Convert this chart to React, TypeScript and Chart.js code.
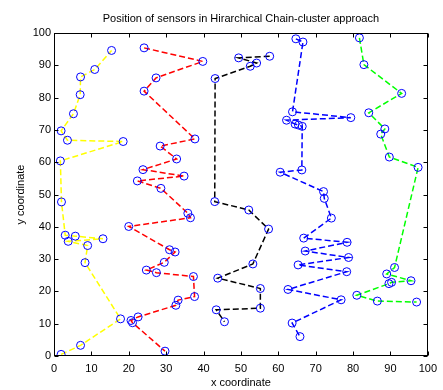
import React, { useEffect, useRef } from "react";
import { Chart, registerables } from "chart.js";

Chart.register(...registerables);

const TITLE = "Position of sensors in Hirarchical Chain-cluster approach";
const X_LABEL = "x coordinate";
const Y_LABEL = "y coordinate";
const tickValues = [0, 10, 20, 30, 40, 50, 60, 70, 80, 90, 100];

const yellowX = [1.9, 7.1, 17.8, 8.3, 9.0, 3.8, 13.1, 5.7, 3.0, 2.0, 1.7, 18.5, 3.6, 1.9, 5.2, 7.0, 7.1, 10.9, 15.4];
const yellowY = [0.5, 3.3, 11.5, 28.9, 34.2, 35.5, 36.3, 37.1, 37.4, 47.7, 60.4, 66.4, 66.8, 69.7, 75.0, 80.9, 86.4, 88.7, 94.6];

const redX = [24.1, 39.8, 27.3, 24.1, 37.7, 28.4, 32.8, 23.8, 34.8, 22.3, 28.6, 35.8, 36.5, 20.0, 30.9, 32.4, 29.5, 24.7, 27.4, 37.3, 37.6, 33.2, 32.6, 22.5, 20.6, 21.0, 29.7];
const redY = [95.4, 91.2, 86.1, 82.0, 67.2, 65.0, 61.0, 57.7, 55.7, 54.2, 51.9, 44.2, 42.8, 40.1, 32.9, 32.2, 29.0, 26.6, 25.8, 24.6, 18.4, 17.3, 15.7, 12.1, 11.0, 10.3, 1.5];

const blackX = [57.7, 49.4, 54.2, 52.5, 43.1, 43.0, 52.1, 57.4, 53.2, 43.8, 55.2, 55.2, 43.4, 45.6];
const blackY = [92.8, 92.3, 90.7, 89.7, 85.9, 47.8, 45.2, 39.3, 28.5, 24.1, 20.9, 14.8, 14.3, 10.6];

const blueX = [64.7, 66.6, 63.8, 79.4, 62.2, 64.5, 65.4, 66.4, 66.3, 60.5, 72.1, 72.3, 74.2, 66.8, 78.4, 67.2, 78.8, 65.3, 78.3, 62.6, 76.8, 63.7, 65.8];
const blueY = [98.2, 97.2, 75.6, 73.8, 73.0, 71.8, 71.5, 71.1, 57.6, 56.9, 50.9, 48.8, 42.7, 36.5, 35.2, 32.5, 30.5, 28.2, 26.1, 20.6, 17.4, 10.2, 6.0];

const greenX = [81.7, 82.9, 93.0, 84.2, 88.5, 87.4, 89.7, 97.4, 91.1, 89.0, 95.5, 90.3, 89.6, 81.0, 86.5, 97.0];
const greenY = [98.5, 90.2, 81.3, 75.3, 70.3, 68.7, 61.6, 58.4, 27.4, 25.4, 23.3, 22.8, 22.4, 18.8, 17.0, 16.7];

const FONT = "'Liberation Sans', Arial, Helvetica, sans-serif";

function series(xs: number[], ys: number[], color: string) {
  return {
    data: xs.map((x, i) => ({ x, y: ys[i] })),
    showLine: true,
    borderColor: color,
    borderWidth: 1.5,
    borderDash: [6, 3],
    tension: 0,
    pointRadius: 4,
    pointHoverRadius: 4,
    pointBorderWidth: 1,
    pointBorderColor: "#0000ff",
    pointBackgroundColor: "rgba(0,0,0,0)",
  };
}

const framePlugin = {
  id: "matlabFrame",
  afterDraw(chart: any) {
    const { ctx, chartArea, scales } = chart;
    const { left, right, top, bottom } = chartArea;
    const xs = scales.x;
    const ys = scales.y;
    ctx.save();
    ctx.strokeStyle = "#000";
    ctx.lineWidth = 1;
    ctx.setLineDash([]);
    const L = Math.round(left) + 0.5;
    const R = Math.round(right) - 0.5;
    const T = Math.round(top) + 0.5;
    const B = Math.round(bottom) - 0.5;
    ctx.strokeRect(L, T, R - L, B - T);
    const tl = 4;
    ctx.beginPath();
    tickValues.forEach((v) => {
      const px = Math.round(xs.getPixelForValue(v)) + 0.5;
      ctx.moveTo(px, B);
      ctx.lineTo(px, B - tl);
      ctx.moveTo(px, T);
      ctx.lineTo(px, T + tl);
      const py = Math.round(ys.getPixelForValue(v)) + 0.5;
      ctx.moveTo(L, py);
      ctx.lineTo(L + tl, py);
      ctx.moveTo(R, py);
      ctx.lineTo(R - tl, py);
    });
    ctx.stroke();

    ctx.fillStyle = "#000";
    ctx.font = `11px ${FONT}`;
    ctx.textAlign = "center";
    ctx.textBaseline = "middle";
    const cx = (left + right) / 2;
    ctx.fillText(TITLE, cx, 19);
    ctx.fillText(X_LABEL, cx, 383);
    ctx.translate(21, (top + bottom) / 2);
    ctx.rotate(-Math.PI / 2);
    ctx.fillText(Y_LABEL, 0, 0);
    ctx.restore();
  },
};

export default function App() {
  const ref = useRef<HTMLCanvasElement | null>(null);
  useEffect(() => {
    if (!ref.current) return;
    const chart = new Chart(ref.current, {
      type: "scatter",
      data: {
        datasets: [
          series(yellowX, yellowY, "#ffff00"),
          series(redX, redY, "#ff0000"),
          series(blackX, blackY, "#000000"),
          series(blueX, blueY, "#0000ff"),
          series(greenX, greenY, "#00ff00"),
        ] as any,
      },
      options: {
        responsive: false,
        animation: false,
        layout: { padding: { top: 33, right: 6, left: 0, bottom: 0 } },
        plugins: {
          legend: { display: false },
          title: { display: false },
          tooltip: { enabled: false },
        },
        scales: {
          x: {
            type: "linear",
            min: 0,
            max: 100,
            afterBuildTicks: (axis: any) => {
              axis.ticks = tickValues.map((v) => ({ value: v }));
            },
            afterFit: (axis: any) => {
              axis.height = 34;
            },
            grid: { display: false, drawTicks: false },
            border: { display: false },
            ticks: {
              padding: 6,
              color: "#000",
              font: { family: FONT, size: 11 },
              maxRotation: 0,
            },
          },
          y: {
            type: "linear",
            min: 0,
            max: 100,
            afterBuildTicks: (axis: any) => {
              axis.ticks = tickValues.map((v) => ({ value: v }));
            },
            afterFit: (axis: any) => {
              axis.width = 54;
            },
            grid: { display: false, drawTicks: false },
            border: { display: false },
            ticks: {
              padding: 3,
              color: "#000",
              font: { family: FONT, size: 11 },
            },
          },
        },
      },
      plugins: [framePlugin],
    });
    return () => chart.destroy();
  }, []);
  return (
    <div style={{ position: "absolute", left: 0, top: 0, width: 443, height: 390, background: "#fff" }}>
      <canvas ref={ref} width={443} height={390} style={{ width: 443, height: 390, display: "block" }} />
    </div>
  );
}
